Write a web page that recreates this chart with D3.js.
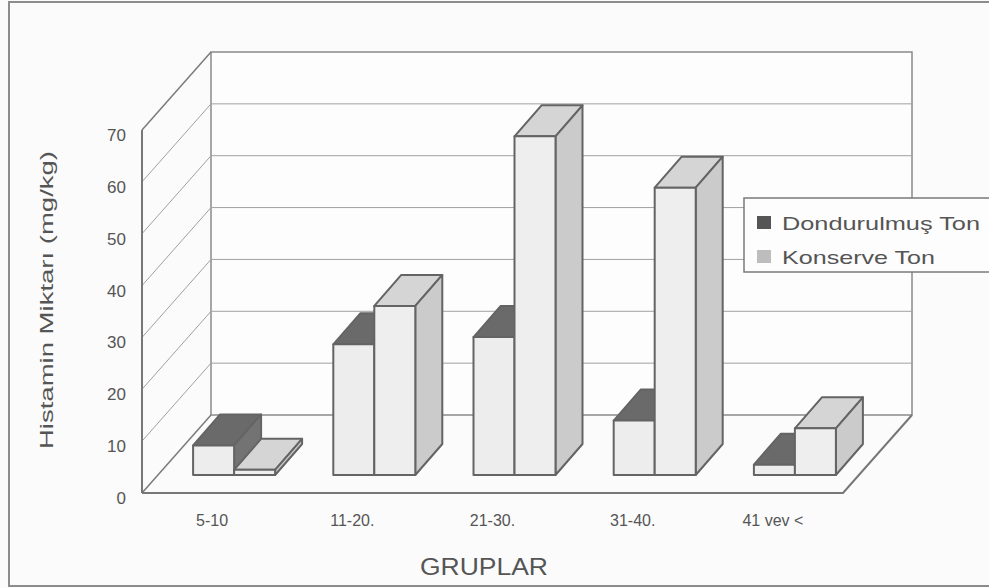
<!DOCTYPE html>
<html><head><meta charset="utf-8">
<script src="https://cdn.jsdelivr.net/npm/d3@7"></script>
<style>body{margin:0;background:#fbfbfb;}svg{display:block;}</style>
</head><body>
<script>
// ---- data ----
const categories = ["5-10", "11-20.", "21-30.", "31-40.", "41 vev <"];
const dondurulmus = [5.7, 25.2, 26.6, 10.5, 2];
const konserve = [1, 32.6, 65.3, 55.4, 9];
const seriesNames = ["Dondurulmuş Ton", "Konserve Ton"];
const yTicks = [0, 10, 20, 30, 40, 50, 60, 70];
const xTitle = "GRUPLAR";
const yTitle = "Histamin Miktarı (mg/kg)";

// ---- layout ----
const W = 989, H = 588;
const x0 = 142, x1 = 843, yFront0 = 493;
const depth = {dx: 69, dy: -78};       // wall depth
const barOff = {dx: 22, dy: -18};      // bar front plane
const barDepth = {dx: 27, dy: -31};    // bar thickness
const barW = 41;
const font = "'Liberation Sans', Arial, sans-serif";

const svg = d3.select("body").append("svg").attr("width", W).attr("height", H);
svg.append("rect").attr("width", W).attr("height", H).attr("fill", "#fbfbfb");

const y = d3.scaleLinear().domain([0, 70]).range([yFront0, 130]);
const x = d3.scaleBand().domain(categories).range([x0, x1]);
const hy = v => y(0) - y(v);  // pixel height of value

// outer frame
svg.append("path").attr("d", `M${W+5},2H9V586H${W+5}`)
  .attr("fill", "none").attr("stroke", "#8c8c8c").attr("stroke-width", 2);

// walls
const bx0 = x0 + depth.dx, bx1 = x1 + depth.dx;
const by = v => y(v) + depth.dy;
svg.append("rect").attr("x", bx0).attr("y", by(70)).attr("width", bx1 - bx0).attr("height", by(0) - by(70))
  .attr("fill", "#fdfdfd").attr("stroke", "#8a8a8a").attr("stroke-width", 1.5);
// back wall grid
svg.append("g").selectAll("line").data(yTicks.filter(d => d > 0 && d < 70)).join("line")
  .attr("x1", bx0).attr("x2", bx1).attr("y1", d => by(d)).attr("y2", d => by(d))
  .attr("stroke", "#a0a0a0").attr("stroke-width", 1);
// left wall grid (diagonals)
svg.append("g").selectAll("line").data(yTicks).join("line")
  .attr("x1", x0).attr("x2", bx0).attr("y1", d => y(d)).attr("y2", d => by(d))
  .attr("stroke", d => (d === 0 || d === 70) ? "#7a7a7a" : "#a0a0a0")
  .attr("stroke-width", d => (d === 0 || d === 70) ? 1.5 : 1);
// floor
svg.append("path")
  .attr("d", `M${x0},${y(0)}L${x1},${y(0)}L${bx1},${by(0)}`)
  .attr("fill", "none").attr("stroke", "#777").attr("stroke-width", 2);
// left axis line
svg.append("line").attr("x1", x0).attr("x2", x0).attr("y1", y(0)).attr("y2", y(70))
  .attr("stroke", "#777").attr("stroke-width", 2);

// bars
const series = [
  {name: seriesNames[0], values: dondurulmus, off: -barW, front: "#ededed", top: "#6a6a6a", side: "#737373"},
  {name: seriesNames[1], values: konserve, off: 0, front: "#eeeeee", top: "#d5d5d5", side: "#cbcbcb"}
];
const gb = svg.append("g");
categories.forEach((c, i) => {
  const cx = x(c) + x.bandwidth() / 2 + barOff.dx;
  const base = y(0) + barOff.dy;
  series.forEach(s => {
    const v = s.values[i];
    const L = cx + s.off, R = L + barW, T = base - hy(v), B = base;
    const dx = barDepth.dx, dy = barDepth.dy;
    const g = gb.append("g").attr("stroke", "#646464").attr("stroke-width", 2).attr("stroke-linejoin", "round");
    g.append("path").attr("fill", s.top)
      .attr("d", `M${L},${T}L${L+dx},${T+dy}L${R+dx},${T+dy}L${R},${T}Z`);
    g.append("path").attr("fill", s.side)
      .attr("d", `M${R},${T}L${R+dx},${T+dy}L${R+dx},${B+dy}L${R},${B}Z`);
    g.append("rect").attr("fill", s.front).attr("x", L).attr("y", T).attr("width", barW).attr("height", B - T);
  });
});

// y axis labels
const ya = svg.append("g").attr("transform", "translate(128,5)")
  .call(d3.axisLeft(y).tickValues(yTicks).tickSize(0).tickPadding(2));
ya.select(".domain").remove();
ya.selectAll("text").attr("font-family", font).attr("font-size", 17).attr("fill", "#555");

// x axis labels
const xa = svg.append("g").attr("transform", "translate(0,512)")
  .call(d3.axisBottom(x).tickSize(0).tickPadding(3));
xa.select(".domain").remove();
xa.selectAll("text").attr("font-family", font).attr("font-size", 16).attr("fill", "#555");

// titles
svg.append("text").attr("x", 484).attr("y", 575).attr("text-anchor", "middle")
  .attr("font-family", font).attr("font-size", 23).attr("fill", "#555")
  .attr("textLength", 128).attr("lengthAdjust", "spacingAndGlyphs").text(xTitle);
svg.append("text").attr("transform", "translate(53,300) rotate(-90)").attr("text-anchor", "middle")
  .attr("font-family", font).attr("font-size", 18).attr("fill", "#555")
  .attr("textLength", 298).attr("lengthAdjust", "spacingAndGlyphs").text(yTitle);

// legend
const lg = svg.append("g");
lg.append("rect").attr("x", 744).attr("y", 198).attr("width", 260).attr("height", 74)
  .attr("fill", "#fdfdfd").attr("stroke", "#7a7a7a").attr("stroke-width", 1.5);
const legLens = [198, 153];
const legCols = ["#555", "#bdbdbd"];
seriesNames.forEach((n, i) => {
  const cy = 223 + i * 34;
  lg.append("rect").attr("x", 757).attr("y", cy - 7).attr("width", 14).attr("height", 13).attr("fill", legCols[i]);
  lg.append("text").attr("x", 782).attr("y", cy + 7).attr("font-family", font).attr("font-size", 19)
    .attr("fill", "#555").attr("textLength", legLens[i]).attr("lengthAdjust", "spacingAndGlyphs").text(n);
});
</script>
</body></html>
